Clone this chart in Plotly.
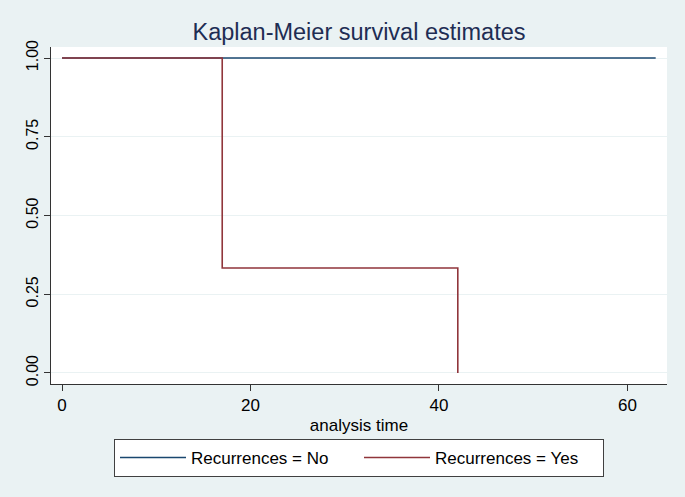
import plotly.graph_objects as go

# Data
no_time = [0, 63]
no_surv = [1.0, 1.0]
yes_time = [0, 17, 42]
yes_surv = [1.0, 0.3333, 0.0]
x_ticks = [0, 20, 40, 60]
y_ticks = [0.0, 0.25, 0.5, 0.75, 1.0]
y_tick_labels = ["0.00", "0.25", "0.50", "0.75", "1.00"]

NAVY = "#1A476F"
MAROON = "#90353B"
BG = "#EAF2F3"
FONT = "Liberation Sans, Arial, Helvetica, sans-serif"

fig = go.Figure()
fig.add_trace(go.Scatter(x=no_time, y=no_surv, mode="lines", line_shape="hv",
                         line=dict(color=NAVY, width=1.6), name="Recurrences = No"))
fig.add_trace(go.Scatter(x=yes_time, y=yes_surv, mode="lines", line_shape="hv",
                         line=dict(color=MAROON, width=1.6), name="Recurrences = Yes"))

fig.update_layout(
    width=685, height=497,
    paper_bgcolor=BG, plot_bgcolor="white",
    margin=dict(l=51, r=18, t=47, b=113, autoexpand=False),
    font=dict(family=FONT, color="#000000", size=16),
    title=dict(text="Kaplan-Meier survival estimates", x=0.5, xref="paper", xanchor="center",
               y=1 - 32/497, yanchor="middle",
               font=dict(size=23.5, color="#1E2D53", family=FONT)),
    showlegend=True,
    legend=dict(orientation="h", x=0.5, xanchor="center", xref="paper",
                y=-(439 - 384) / 337, yanchor="top", bgcolor="white", bordercolor="#404040",
                borderwidth=1, font=dict(size=17, family=FONT), entrywidth=163,
                entrywidthmode="pixels", itemwidth=66),
)
fig.update_xaxes(range=[-1.17, 64.2], tickvals=x_ticks, ticks="outside", ticklen=6,
                 tickcolor="#333333", showline=True, linecolor="#333333", linewidth=1,
                 showgrid=False, zeroline=False, tickfont=dict(size=17), automargin=False,
                 title=dict(text="analysis time", font=dict(size=17), standoff=4))
fig.update_yaxes(range=[-0.035, 1.035], tickvals=y_ticks, ticktext=y_tick_labels,
                 ticks="outside", ticklen=6, tickcolor="#333333", showline=True,
                 linecolor="#333333", linewidth=1, showgrid=True, gridcolor=BG, gridwidth=1,
                 zeroline=False, tickangle=-90, tickfont=dict(size=16), automargin=False)

fig.write_html("out.html", config={"displayModeBar": False},
               post_script="document.body.style.margin='0';document.body.style.background='%s';" % BG)
